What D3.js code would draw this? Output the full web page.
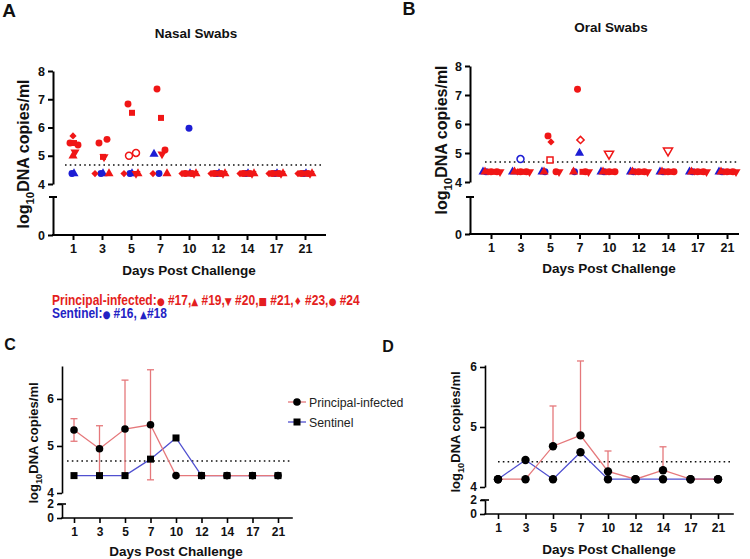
<!DOCTYPE html>
<html><head><meta charset="utf-8">
<script src="https://cdn.jsdelivr.net/npm/d3@7"></script>
<style>
body{margin:0;background:#fff;}
svg{font-family:"Liberation Sans",Arial,Helvetica,sans-serif;}
</style></head><body>
<svg id="c" width="750" height="559"></svg>
<script>
// ---------------- DATA ----------------
const days = ["1","3","5","7","10","12","14","17","21"];
const topTicksAB = [4,5,6,7,8];
const topTicksCD = [4,5,6];
const lowTicksAB = [0];
const lowTicksCD = [0,2];

// plotted value for undetected samples and detection-limit lines
const undetectedNasal = 4.37;
const undetectedOral = 4.35;
const lodNasal = 4.67, lodOral = 4.69, lodMeanNasal = 4.68, lodMeanOral = 4.42;

// Nasal swabs per animal (null = undetected)
const nasal17 = [5.45, 5.45, 6.83, 7.36, null, null, null, null, null];
const nasal19 = [5.00, null, null, null, null, null, null, null, null];
const nasal20 = [5.13, 4.96, null, 5.06, null, null, null, null, null];
const nasal21 = [5.45, 4.96, 6.52, 6.34, null, null, null, null, null];
const nasal23 = [5.70, null, null, null, null, null, null, null, null];
const nasal24 = [5.38, 5.58, 5.10, 5.20, null, null, null, null, null];
const nasal16 = [null, null, null, null, 5.97, null, null, null, null];
const nasal18 = [null, null, null, 5.06, null, null, null, null, null];
const nasalOpen = [["#24","5"]];
const nasalExtraOpen = [["#17","5",5.00]];

// Oral swabs per animal
const oral17 = [null, null, 5.59, 7.20, null, null, null, null, null];
const oral19 = [null, null, null, null, null, null, null, null, null];
const oral20 = [null, null, null, null, 4.97, null, 5.08, null, null];
const oral21 = [null, null, 4.76, null, null, null, null, null, null];
const oral23 = [null, null, 5.38, 5.45, null, null, null, null, null];
const oral24 = [null, null, null, null, null, null, null, null, null];
const oral16 = [null, 4.79, null, null, null, null, null, null, null];
const oral18 = [null, null, null, 5.00, null, null, null, null, null];
const oralOpen = [["#16","3"],["#21","5"],["#23","7"],["#20","10"],["#20","14"]];

// Panel C (nasal means)
const nasalPrincipalMean = [5.34, 4.94, 5.36, 5.45, 4.37, 4.37, 4.37, 4.37, 4.37];
const nasalPrincipalLow  = [5.10, 4.40, 4.38, 4.28, null, null, null, null, null];
const nasalPrincipalHigh = [5.58, 5.43, 6.40, 6.62, null, null, null, null, null];
const nasalSentinelMean  = [4.37, 4.37, 4.37, 4.72, 5.17, 4.37, 4.37, 4.37, 4.37];

// Panel D (oral means)
const oralPrincipalMean = [4.13, 4.13, 4.68, 4.86, 4.26, 4.13, 4.28, 4.13, 4.13];
const oralPrincipalHigh = [null, null, 5.35, 6.10, 4.60, null, 4.67, null, null];
const oralSentinelMean  = [4.13, 4.45, 4.13, 4.58, 4.13, 4.13, 4.13, 4.13, 4.13];

const legendPrincipal = "Principal-infected:";
const legendPrincipalItems = [["●"," #17,"],["▲"," #19,"],["▼"," #20,"],["■"," #21,"],["♦"," #23,"],["●"," #24"]];
const legendSentinel = "Sentinel:";
const legendSentinelItems = [["●"," #16, "],["▲","#18"]];

// ---------------- STYLE ----------------
const FONT = "'Liberation Sans', Arial, Helvetica, sans-serif";
const RED = "#f01616", BLUE = "#1d1dd4";
const LRED = "#e5787b", LBLUE = "#5050d0";
const shapeOf = {"#17":"circle","#19":"triUp","#20":"triDown","#21":"square","#23":"diamond","#24":"circle","#16":"circle","#18":"triUp"};
const colorOf = id => (id === "#16" || id === "#18") ? BLUE : RED;
const symSize = {circle:38, triUp:36, triDown:36, square:36, diamond:26};
const offNasalPos = {"#17":-3,"#19":0,"#20":2,"#21":1,"#23":0,"#24":5,"#16":0,"#18":-6};
const offNasalLod = {"#23":-7,"#17":-4,"#16":-1,"#21":-1,"#18":1,"#24":3,"#20":5,"#19":7};
const offOralPos = {"#17":-2,"#19":0,"#20":0,"#21":0,"#23":1,"#24":0,"#16":0,"#18":0};
const offOralLod = {"#18":-8,"#16":-5,"#19":-6,"#23":-3,"#17":0,"#21":3,"#24":6,"#20":9};

const svg = d3.select("#c");

function symPath(shape){
  const t = {circle:d3.symbolCircle, triUp:d3.symbolTriangle, triDown:d3.symbolTriangle, square:d3.symbolSquare, diamond:d3.symbolSquare}[shape];
  return d3.symbol().type(t).size(symSize[shape])();
}
function symRot(shape){ return shape==="triDown"?180:(shape==="diamond"?45:0); }

function axes(p){
  const sw = p.sw;
  const gx = svg.append("g").attr("transform",`translate(0,${p.yL(0)})`)
    .call(d3.axisBottom(p.x).tickSize(5).tickSizeOuter(0).tickPadding(4));
  gx.select(".domain").remove();
  gx.append("line").attr("x1",p.ax).attr("x2",p.xEnd).attr("stroke","#000").attr("stroke-width",sw).attr("stroke-linecap","square");
  gx.selectAll(".tick line").attr("stroke","#000").attr("stroke-width",sw);
  gx.attr("font-family",FONT).attr("font-size",p.fs).attr("font-weight","bold");
  gx.selectAll("text").attr("fill","#111");
  const gu = svg.append("g").attr("transform",`translate(${p.ax},0)`)
    .call(d3.axisLeft(p.yU).tickValues(p.uTicks).tickSize(5).tickSizeOuter(0).tickPadding(3).tickFormat(d3.format("d")));
  gu.select(".domain").attr("stroke","#000").attr("stroke-width",sw);
  gu.selectAll(".tick line").attr("stroke","#000").attr("stroke-width",sw);
  gu.attr("font-family",FONT).attr("font-size",p.fs).attr("font-weight","bold");
  gu.selectAll("text").attr("fill","#111");
  const gl = svg.append("g").attr("transform",`translate(${p.ax},0)`)
    .call(d3.axisLeft(p.yL).tickValues(p.lTicks).tickSize(5).tickSizeOuter(0).tickPadding(3).tickFormat(d3.format("d")));
  gl.select(".domain").attr("stroke","#000").attr("stroke-width",sw);
  gl.selectAll(".tick line").attr("stroke","#000").attr("stroke-width",sw);
  gl.attr("font-family",FONT).attr("font-size",p.fs).attr("font-weight","bold");
  gl.selectAll("text").attr("fill","#111");
  const top = p.yL.range()[1];
  gl.append("line").attr("x1",-4).attr("x2",4).attr("y1",top).attr("y2",top).attr("stroke","#000").attr("stroke-width",sw);
}

function yTitle(x,y,fs){
  const t = svg.append("text").attr("transform",`translate(${x},${y}) rotate(-90)`)
    .attr("text-anchor","middle").attr("font-weight","bold").attr("font-size",fs).attr("fill","#111");
  t.append("tspan").text("log");
  t.append("tspan").attr("font-size",fs*0.72).attr("dy",fs*0.3).text("10");
  t.append("tspan").attr("dy",-fs*0.3).text("DNA copies/ml");
}
function txt(x,y,s,fs,opt={}){
  return svg.append("text").attr("x",x).attr("y",y).attr("font-size",fs)
    .attr("font-weight",opt.w||"bold").attr("text-anchor",opt.a||"middle").attr("fill",opt.c||"#111").text(s);
}
function dotted(x1,x2,y){
  svg.append("line").attr("x1",x1).attr("x2",x2).attr("y1",y).attr("y2",y)
    .attr("stroke","#111").attr("stroke-width",1.6).attr("stroke-dasharray","1.6,3.2");
}

function scatter(x, y, series, openList, extraOpen, under, offPos, offLod){
  const pts = [];
  const order = ["#16","#18","#23","#17","#21","#24","#20","#19"];
  order.forEach(id=>{
    series[id].forEach((v,i)=>{
      const d = days[i];
      const isOpen = openList.some(o=>o[0]===id && o[1]===d);
      if (v==null) pts.push({id,d,v:under,off:offLod[id],open:false,lod:true});
      else pts.push({id,d,v,off:offPos[id],open:isOpen,lod:false});
    });
  });
  extraOpen.forEach(e=>pts.push({id:e[0],d:e[1],v:e[2],off:-2,open:true,lod:false}));
  pts.sort((a,b)=>(a.lod===b.lod)?0:(a.lod?-1:1));
  svg.append("g").selectAll("path").data(pts).join("path")
    .attr("d",p=>symPath(shapeOf[p.id]))
    .attr("transform",p=>`translate(${x(p.d)+p.off},${y(p.v)}) rotate(${symRot(shapeOf[p.id])})`)
    .attr("fill",p=>p.open?"#fff":colorOf(p.id))
    .attr("stroke",p=>p.open?colorOf(p.id):"none")
    .attr("stroke-width",1.5);
}

// ---------------- PANEL A ----------------
const xA = d3.scalePoint().domain(days).range([73,305]);
const yAU = d3.scaleLinear().domain([4,8]).range([184,71]);
const yAL = d3.scaleLinear().domain([0,1]).range([235,197]);
txt(9,17,"A",19);
txt(196,38,"Nasal Swabs",13.5);
dotted(65,323,yAU(lodNasal));
scatter(xA,yAU,{"#17":nasal17,"#19":nasal19,"#20":nasal20,"#21":nasal21,"#23":nasal23,"#24":nasal24,"#16":nasal16,"#18":nasal18},
  nasalOpen,nasalExtraOpen,undetectedNasal,offNasalPos,offNasalLod);
axes({x:xA,yU:yAU,yL:yAL,ax:53,xEnd:325,uTicks:topTicksAB,lTicks:lowTicksAB,sw:2,fs:12.5});
yTitle(29,154,16);
txt(189,275,"Days Post Challenge",13.5);

// ---------------- PANEL B ----------------
const xB = d3.scalePoint().domain(days).range([491,727]);
const yBU = d3.scaleLinear().domain([4,8]).range([182,66]);
const yBL = d3.scaleLinear().domain([0,1]).range([234,197]);
txt(409,15,"B",18);
txt(611,32,"Oral Swabs",13.5);
dotted(485,737,yBU(lodOral));
scatter(xB,yBU,{"#17":oral17,"#19":oral19,"#20":oral20,"#21":oral21,"#23":oral23,"#24":oral24,"#16":oral16,"#18":oral18},
  oralOpen,[],undetectedOral,offOralPos,offOralLod);
axes({x:xB,yU:yBU,yL:yBL,ax:470,xEnd:738,uTicks:topTicksAB,lTicks:lowTicksAB,sw:2,fs:12.5});
yTitle(447,140,16);
txt(609,273,"Days Post Challenge",13.5);

// ---------------- LEGEND ----------------
function legendLine(y, label, items, color, width){
  const g = svg.append("g");
  const t = g.append("text").attr("x",0).attr("y",0).attr("font-size",14).attr("font-weight","bold")
    .attr("fill",color).attr("font-family","'Liberation Sans Narrow','Arial Narrow','Liberation Sans',Arial,sans-serif");
  t.append("tspan").text(label);
  items.forEach(it=>{
    t.append("tspan").attr("font-size",10.5).attr("font-family","'DejaVu Sans',sans-serif").text(it[0]);
    t.append("tspan").text(it[1]);
  });
  const w = t.node().getComputedTextLength();
  g.attr("transform",`translate(52,${y}) scale(${width/w},1)`);
}
legendLine(305,legendPrincipal,legendPrincipalItems,"#e41e20",308);
legendLine(318,legendSentinel,legendSentinelItems,"#2323c4",115);

// ---------------- PANEL C ----------------
const xC = d3.scalePoint().domain(days).range([74,278]);
const yCU = d3.scaleLinear().domain([4,6.7]).range([493,366]);
const yCL = d3.scaleLinear().domain([0,2]).range([518,504]);
txt(10,350,"C",16);
dotted(67,290,yCU(lodMeanNasal));
const lineC = d3.line().x((d,i)=>xC(days[i])).y(d=>yCU(d));
svg.append("path").datum(nasalSentinelMean).attr("d",lineC).attr("fill","none").attr("stroke",LBLUE).attr("stroke-width",1.3);
svg.append("path").datum(nasalPrincipalMean).attr("d",lineC).attr("fill","none").attr("stroke",LRED).attr("stroke-width",1.3);
days.forEach((d,i)=>{
  const hi = nasalPrincipalHigh[i], lo = nasalPrincipalLow[i];
  if (hi==null) return;
  const cx = xC(d);
  svg.append("line").attr("x1",cx).attr("x2",cx).attr("y1",yCU(hi)).attr("y2",yCU(lo)).attr("stroke",LRED).attr("stroke-width",1.3);
  svg.append("line").attr("x1",cx-3.5).attr("x2",cx+3.5).attr("y1",yCU(hi)).attr("y2",yCU(hi)).attr("stroke",LRED).attr("stroke-width",1.3);
  svg.append("line").attr("x1",cx-3.5).attr("x2",cx+3.5).attr("y1",yCU(lo)).attr("y2",yCU(lo)).attr("stroke",LRED).attr("stroke-width",1.3);
});
svg.append("g").selectAll("circle").data(nasalPrincipalMean).join("circle")
  .attr("cx",(d,i)=>xC(days[i])).attr("cy",d=>yCU(d)).attr("r",3.8).attr("fill","#000");
svg.append("g").selectAll("rect").data(nasalSentinelMean).join("rect")
  .attr("x",(d,i)=>xC(days[i])-3.5).attr("y",d=>yCU(d)-3.5).attr("width",7).attr("height",7).attr("fill","#000");
axes({x:xC,yU:yCU,yL:yCL,ax:62,xEnd:292,uTicks:topTicksCD,lTicks:lowTicksCD,sw:1.6,fs:12});
yTitle(38,443,13);
txt(176,556,"Days Post Challenge",13.5);
svg.append("line").attr("x1",288).attr("x2",306).attr("y1",402).attr("y2",402).attr("stroke",LRED).attr("stroke-width",1.3);
svg.append("circle").attr("cx",297).attr("cy",402).attr("r",3.8).attr("fill","#000");
svg.append("line").attr("x1",288).attr("x2",306).attr("y1",422).attr("y2",422).attr("stroke",LBLUE).attr("stroke-width",1.3);
svg.append("rect").attr("x",293.5).attr("y",418.5).attr("width",7).attr("height",7).attr("fill","#000");
txt(309,406.5,"Principal-infected",12.3,{w:"normal",a:"start",c:"#222"});
txt(309,426.5,"Sentinel",12.3,{w:"normal",a:"start",c:"#222"});

// ---------------- PANEL D ----------------
const xD = d3.scalePoint().domain(days).range([498,718]);
const yDU = d3.scaleLinear().domain([4,6.033]).range([487,365]);
const yDL = d3.scaleLinear().domain([0,2]).range([514,500]);
txt(388,352,"D",16);
dotted(498,730,yDU(lodMeanOral));
const lineD = d3.line().x((d,i)=>xD(days[i])).y(d=>yDU(d));
svg.append("path").datum(oralSentinelMean).attr("d",lineD).attr("fill","none").attr("stroke",LBLUE).attr("stroke-width",1.3);
svg.append("path").datum(oralPrincipalMean).attr("d",lineD).attr("fill","none").attr("stroke",LRED).attr("stroke-width",1.3);
days.forEach((d,i)=>{
  const hi = oralPrincipalHigh[i];
  if (hi==null) return;
  const cx = xD(d);
  svg.append("line").attr("x1",cx).attr("x2",cx).attr("y1",yDU(hi)).attr("y2",yDU(oralPrincipalMean[i])).attr("stroke",LRED).attr("stroke-width",1.3);
  svg.append("line").attr("x1",cx-3.5).attr("x2",cx+3.5).attr("y1",yDU(hi)).attr("y2",yDU(hi)).attr("stroke",LRED).attr("stroke-width",1.3);
});
svg.append("g").selectAll("circle.s").data(oralSentinelMean).join("circle")
  .attr("cx",(d,i)=>xD(days[i])).attr("cy",d=>yDU(d)).attr("r",4.2).attr("fill","#000");
svg.append("g").selectAll("circle.p").data(oralPrincipalMean).join("circle")
  .attr("cx",(d,i)=>xD(days[i])).attr("cy",d=>yDU(d)).attr("r",4.2).attr("fill","#000");
axes({x:xD,yU:yDU,yL:yDL,ax:485,xEnd:733,uTicks:topTicksCD,lTicks:lowTicksCD,sw:1.6,fs:12});
yTitle(460,432,13);
txt(609,554,"Days Post Challenge",13.5);
</script>
</body></html>
